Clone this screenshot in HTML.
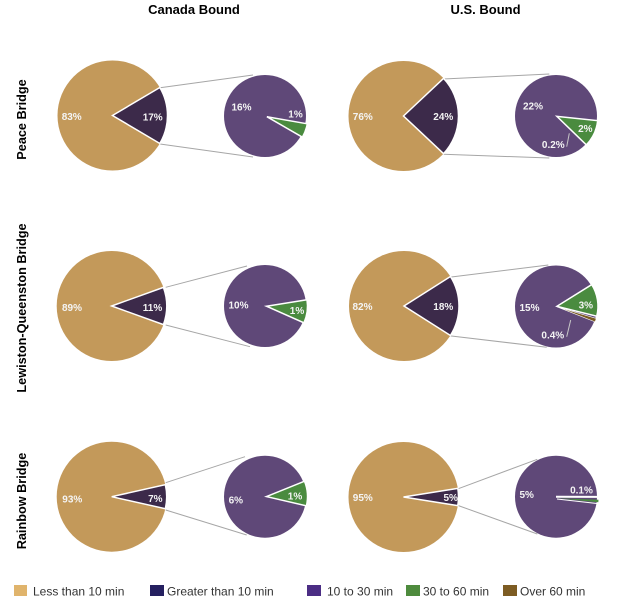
<!DOCTYPE html>
<html><head><meta charset="utf-8"><style>
html,body{margin:0;padding:0;background:#fff;}
svg{display:block;}
.t{font-family:"Liberation Sans",Arial,sans-serif;font-weight:bold;fill:#000;}
.l{font-family:"Liberation Sans",Arial,sans-serif;font-weight:bold;font-size:10px;fill:#f4f4f4;text-anchor:middle;}
.g{font-family:"Liberation Sans",Arial,sans-serif;font-size:12px;fill:#333;}
.c{stroke:#a6a6a6;stroke-width:1;fill:none;}
.w{stroke:#fff;stroke-width:1.5;stroke-linejoin:miter;}
</style></head><body>
<svg width="623" height="604" viewBox="0 0 623 604" xmlns="http://www.w3.org/2000/svg">
<rect width="623" height="604" fill="#fff"/>
<!-- titles -->
<text class="t" x="194" y="14" font-size="13" text-anchor="middle">Canada Bound</text>
<text class="t" x="485.5" y="14" font-size="13" text-anchor="middle">U.S. Bound</text>
<text class="t" font-size="12.7" text-anchor="middle" transform="translate(26,119.5) rotate(-90)">Peace Bridge</text>
<text class="t" font-size="12.7" text-anchor="middle" transform="translate(26,308) rotate(-90)">Lewiston-Queenston Bridge</text>
<text class="t" font-size="12.7" text-anchor="middle" transform="translate(26,501) rotate(-90)">Rainbow Bridge</text>

<!-- connectors -->
<line class="c" x1="160" y1="87.7" x2="253" y2="75"/>
<line class="c" x1="160" y1="144" x2="253" y2="157"/>
<line class="c" x1="165.7" y1="287.3" x2="247" y2="266"/>
<line class="c" x1="165.7" y1="325" x2="250" y2="346.7"/>
<line class="c" x1="165.7" y1="482.7" x2="245" y2="456.7"/>
<line class="c" x1="165.7" y1="510" x2="246.7" y2="535"/>
<line class="c" x1="443.3" y1="79" x2="549.3" y2="74"/>
<line class="c" x1="443.3" y1="154.3" x2="549.3" y2="158"/>
<line class="c" x1="449.3" y1="277.3" x2="548.3" y2="265"/>
<line class="c" x1="449.3" y1="335.7" x2="546.7" y2="347.3"/>
<line class="c" x1="456.7" y1="489.3" x2="537.3" y2="459.3"/>
<line class="c" x1="456.7" y1="505" x2="537.3" y2="534"/>

<!-- Row 1 Left -->
<circle cx="112.5" cy="115.5" r="55" fill="#c3995a"/>
<path class="w" d="M112.5,115.5 L159.84,87.5 A55,55 0 0,1 159.84,143.5 Z" fill="#3c2a4a"/>
<circle cx="265" cy="116" r="41" fill="#5f4878"/>
<path class="w" d="M266.9,116.7 L307.28,123.82 A41,41 0 0,1 302.41,137.2 Z" fill="#4a8b3f"/>
<text class="l" x="71.7" y="120.2">83%</text>
<text class="l" x="152.7" y="120.5">17%</text>
<text class="l" x="241.5" y="110.5">16%</text>
<text class="l" x="295.5" y="117.5">1%</text>

<!-- Row 2 Left -->
<circle cx="111.7" cy="306" r="55" fill="#c3995a"/>
<path class="w" d="M111.7,306 L163.45,287.37 A55,55 0 0,1 163.45,324.63 Z" fill="#3c2a4a"/>
<circle cx="265" cy="306" r="41" fill="#5f4878"/>
<path class="w" d="M266.5,306.2 L307,299.79 A41,41 0 0,1 303.95,322.87 Z" fill="#4a8b3f"/>
<text class="l" x="72" y="311.2">89%</text>
<text class="l" x="152.5" y="311.2">11%</text>
<text class="l" x="238.5" y="308.5">10%</text>
<text class="l" x="297" y="314.2">1%</text>

<!-- Row 3 Left -->
<circle cx="111.7" cy="496.7" r="55" fill="#c3995a"/>
<path class="w" d="M111.7,496.7 L165.38,484.7 A55,55 0 0,1 165.38,508.7 Z" fill="#3c2a4a"/>
<circle cx="265" cy="496.7" r="41" fill="#5f4878"/>
<path class="w" d="M266.5,496.6 L304.51,481.24 A41,41 0 0,1 306.45,505.82 Z" fill="#4a8b3f"/>
<text class="l" x="72.3" y="502.5">93%</text>
<text class="l" x="155.3" y="501.8">7%</text>
<text class="l" x="235.8" y="503.5">6%</text>
<text class="l" x="295" y="499.5">1%</text>

<!-- Row 1 Right -->
<circle cx="403.5" cy="116" r="55" fill="#c3995a"/>
<path class="w" d="M403.5,116 L443.6,78.35 A55,55 0 0,1 443.6,153.65 Z" fill="#3c2a4a"/>
<circle cx="556" cy="116" r="41" fill="#5f4878"/>
<path class="w" d="M556.9,116.4 L597.67,120.69 A41,41 0 0,1 586.39,144.88 Z" fill="#4a8b3f"/>
<line x1="566.7" y1="146.7" x2="569.3" y2="133.3" stroke="#c8c8c8" stroke-width="1"/>
<text class="l" x="362.8" y="120.2">76%</text>
<text class="l" x="443.3" y="120.2">24%</text>
<text class="l" x="533" y="109.5">22%</text>
<text class="l" x="585.3" y="131.8">2%</text>
<text class="l" x="553.3" y="147.8">0.2%</text>

<!-- Row 2 Right -->
<circle cx="404" cy="306" r="55" fill="#c3995a"/>
<path class="w" d="M404,306 L450.44,276.53 A55,55 0 0,1 450.44,335.47 Z" fill="#3c2a4a"/>
<circle cx="556" cy="306.5" r="41" fill="#5f4878"/>
<path class="w" d="M557,306.3 L591.77,284.57 A41,41 0 0,1 596.78,316.22 Z" fill="#4a8b3f"/>
<path d="M556.95,306.83 L596.26,318.47 A41,41 0 0,1 595.1,321.86 Z" fill="#7a5a22" stroke="#fff" stroke-width="0.6"/>
<line x1="566.7" y1="336.7" x2="570.7" y2="320" stroke="#c8c8c8" stroke-width="1"/>
<text class="l" x="362.5" y="310.2">82%</text>
<text class="l" x="443.3" y="310.2">18%</text>
<text class="l" x="529.5" y="310.8">15%</text>
<text class="l" x="585.8" y="308.5">3%</text>
<text class="l" x="552.8" y="338.5">0.4%</text>

<!-- Row 3 Right -->
<circle cx="403.5" cy="497" r="55" fill="#c3995a"/>
<path class="w" d="M403.5,497 L457.82,488.4 A55,55 0 0,1 457.82,505.6 Z" fill="#3c2a4a"/>
<circle cx="556" cy="496.7" r="41" fill="#5f4878"/>
<line x1="556" y1="496.7" x2="598" y2="496.9" stroke="#fff" stroke-width="2"/>
<path d="M557.5,498.3 L598.48,499.73 A41,41 0 0,1 598.31,502.23 Z" fill="#4a8b3f"/>
<line x1="557" y1="499" x2="598" y2="503.6" stroke="#fff" stroke-width="1"/>
<text class="l" x="362.8" y="501.2">95%</text>
<text class="l" x="450.7" y="501.2">5%</text>
<text class="l" x="526.7" y="497.8">5%</text>
<text class="l" x="581.5" y="493.5">0.1%</text>

<!-- legend -->
<rect x="14" y="585" width="13" height="11" fill="#e0b46c"/>
<text class="g" x="33" y="595.5">Less than 10 min</text>
<rect x="150" y="585" width="14" height="11" fill="#252060"/>
<text class="g" x="167" y="595.5">Greater than 10 min</text>
<rect x="307" y="585" width="14" height="11" fill="#4b2d84"/>
<text class="g" x="327" y="595.5">10 to 30 min</text>
<rect x="406" y="585" width="14" height="11" fill="#4e8b3d"/>
<text class="g" x="423" y="595.5">30 to 60 min</text>
<rect x="503" y="585" width="14" height="11" fill="#7d5c23"/>
<text class="g" x="520" y="595.5">Over 60 min</text>
</svg>
</body></html>
